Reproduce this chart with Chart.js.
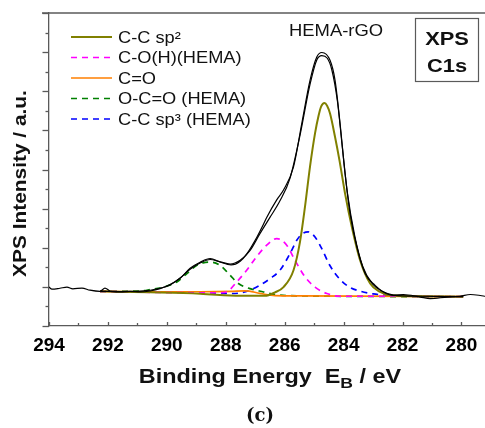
<!DOCTYPE html>
<html>
<head>
<meta charset="utf-8">
<script src="https://cdn.jsdelivr.net/npm/chart.js@4.4.0/dist/chart.umd.min.js"></script>
<style>
  html, body { margin: 0; padding: 0; background: #fff; }
  #wrap { position: relative; width: 485px; height: 428px; }
</style>
</head>
<body>
<div id="wrap"><canvas id="myChart" width="485" height="428"></canvas></div>
<script>
// values: binding energy (eV) / intensity (a.u.)
const measuredE = [294.00, 293.90, 293.63, 293.39, 293.19, 292.88, 292.61, 292.27, 292.10, 291.93, 291.59, 291.25, 290.91, 290.57, 290.23, 289.89, 289.55, 289.21, 288.87, 288.53, 288.19, 287.82, 287.51, 287.28, 286.94, 286.72, 286.61, 286.27, 286.04, 285.70, 285.42, 285.14, 284.91, 284.74, 284.46, 284.29, 284.12, 283.95, 283.78, 283.55, 283.27, 282.93, 282.65, 282.31, 281.97, 281.40, 281.06, 280.49, 280.04, 279.70, 279.36, 279.20];
const measuredI = [1.99, 1.88, 1.93, 1.99, 1.90, 1.94, 1.83, 1.77, 1.94, 1.79, 1.74, 1.77, 1.74, 1.79, 1.91, 2.12, 2.44, 2.95, 3.26, 3.45, 3.27, 3.12, 3.31, 3.70, 4.55, 5.20, 5.55, 6.45, 6.95, 8.13, 10.35, 12.56, 13.75, 13.98, 13.58, 12.56, 10.35, 7.79, 5.75, 4.04, 2.68, 2.08, 1.74, 1.57, 1.61, 1.48, 1.40, 1.48, 1.52, 1.61, 1.56, 1.52];

const envelopeE = [292.27, 291.59, 290.91, 290.23, 289.89, 289.55, 289.21, 288.87, 288.53, 288.19, 287.85, 287.51, 287.18, 286.84, 286.50, 286.16, 285.82, 285.48, 285.14, 284.91, 284.74, 284.56, 284.40, 284.21, 284.04, 283.87, 283.62, 283.35, 283.02, 282.65, 282.31, 281.40, 279.94];
const envelopeI = [1.77, 1.76, 1.78, 1.93, 2.10, 2.45, 2.90, 3.22, 3.40, 3.28, 3.17, 3.36, 3.85, 4.72, 5.55, 6.40, 7.55, 9.75, 12.35, 13.60, 13.82, 13.70, 13.10, 11.50, 9.10, 6.80, 4.60, 3.05, 2.15, 1.75, 1.58, 1.52, 1.50];

const sp2E = [292.27, 290.57, 288.87, 287.51, 286.67, 286.33, 286.04, 285.70, 285.48, 285.31, 285.14, 284.97, 284.85, 284.76, 284.65, 284.56, 284.46, 284.29, 284.14, 283.95, 283.72, 283.44, 283.10, 282.76, 282.42, 281.40, 279.94];
const sp2I = [1.77, 1.72, 1.65, 1.54, 1.54, 1.72, 1.99, 2.85, 4.30, 6.10, 8.15, 9.85, 10.75, 11.23, 11.40, 11.26, 10.86, 9.66, 8.47, 6.77, 5.06, 3.36, 2.17, 1.74, 1.57, 1.52, 1.50];

const cohE = [292.27, 290.57, 288.87, 288.19, 287.97, 287.63, 287.29, 286.96, 286.61, 286.27, 285.93, 285.65, 285.31, 284.97, 284.57, 284.12, 282.08, 279.94];
const cohI = [1.77, 1.72, 1.70, 1.70, 1.74, 2.25, 2.85, 3.53, 4.13, 4.47, 4.13, 3.36, 2.51, 1.99, 1.66, 1.52, 1.52, 1.50];

const coE = [292.27, 290.57, 288.87, 287.85, 287.34, 286.84, 286.33, 285.48, 279.94];
const coI = [1.77, 1.75, 1.75, 1.77, 1.80, 1.67, 1.55, 1.54, 1.50];

const ocoE = [292.27, 290.91, 290.57, 290.12, 289.66, 289.32, 288.98, 288.77, 288.53, 288.19, 287.85, 287.57, 287.18, 286.72, 286.38, 285.48, 279.94];
const ocoI = [1.77, 1.79, 1.86, 1.99, 2.25, 2.68, 3.10, 3.23, 3.27, 3.10, 2.59, 2.17, 1.91, 1.74, 1.62, 1.54, 1.50];

const sp3E = [292.27, 290.57, 288.87, 287.85, 287.51, 287.18, 286.84, 286.50, 286.16, 285.82, 285.59, 285.41, 285.20, 284.97, 284.74, 284.46, 284.12, 283.78, 283.44, 282.99, 282.53, 281.40, 279.94];
const sp3I = [1.77, 1.74, 1.72, 1.66, 1.69, 1.83, 2.08, 2.42, 2.85, 3.70, 4.38, 4.71, 4.81, 4.55, 3.95, 3.08, 2.38, 1.97, 1.78, 1.64, 1.56, 1.52, 1.50];

const seriesNames = ["C-C sp\u00B2", "C-O(H)(HEMA)", "C=O", "O-C=O (HEMA)", "C-C sp\u00B3 (HEMA)"];
const xTickValues = [280, 281, 282, 283, 284, 285, 286, 287, 288, 289, 290, 291, 292, 293, 294];
const xTickLabels = [294, 292, 290, 288, 286, 284, 282, 280];

function pts(xs, ys) {
  return xs.map((x, i) => ({ x: x, y: ys[i] }));
}

function stretchText(ctx, text, x, y, font, sx, align) {
  ctx.save();
  ctx.font = font;
  ctx.translate(x, y);
  ctx.scale(sx, 1);
  ctx.textAlign = align || "left";
  ctx.textBaseline = "alphabetic";
  ctx.fillText(text, 0, 0);
  ctx.restore();
}

const axisColor = "#5a5a5a";

const decorations = {
  id: "decorations",
  afterDraw(chart) {
    const ctx = chart.ctx;
    const xs = chart.scales.x;
    const ys = chart.scales.y;
    const area = chart.chartArea;

    ctx.save();
    ctx.strokeStyle = axisColor;
    ctx.lineWidth = 1.3;

    // top frame line
    ctx.beginPath();
    ctx.moveTo(42, area.top);
    ctx.lineTo(485, area.top);
    ctx.stroke();

    // y ticks (outward), major every 2 units
    ys.ticks.forEach(t => {
      const py = Math.round(ys.getPixelForValue(t.value)) + 0.5;
      const len = t.value % 2 === 0 ? 6.5 : 3.5;
      ctx.beginPath();
      ctx.moveTo(area.left - len, py);
      ctx.lineTo(area.left, py);
      ctx.stroke();
    });

    // x ticks (inward)
    xs.ticks.forEach(t => {
      const px = Math.round(xs.getPixelForValue(t.value)) + 0.5;
      const len = t.value % 2 === 0 ? 4 : 3;
      ctx.beginPath();
      ctx.moveTo(px, area.bottom);
      ctx.lineTo(px, area.bottom - len);
      ctx.stroke();
    });
    ctx.restore();

    // legend
    const rows = [37, 57.5, 78, 98.5, 119];
    ctx.save();
    ctx.fillStyle = "#111";
    rows.forEach((ry, i) => {
      const ds = chart.data.datasets[i + 2];
      ctx.save();
      ctx.strokeStyle = ds.borderColor;
      ctx.lineWidth = ds.borderWidth;
      ctx.setLineDash(ds.borderDash || []);
      ctx.beginPath();
      ctx.moveTo(71, ry);
      ctx.lineTo(112, ry);
      ctx.stroke();
      ctx.restore();
      stretchText(ctx, seriesNames[i], 118, ry + 5.8, "16px 'Liberation Sans', Arial, sans-serif", 1.14);
    });

    // sample label
    stretchText(ctx, "HEMA-rGO", 289, 35.5, "16px 'Liberation Sans', Arial, sans-serif", 1.15);

    // XPS C1s box
    ctx.strokeStyle = axisColor;
    ctx.lineWidth = 1.2;
    ctx.strokeRect(415.5, 18.5, 63, 63);
    stretchText(ctx, "XPS", 447, 45, "bold 19px 'Liberation Sans', Arial, sans-serif", 1.15, "center");
    stretchText(ctx, "C1s", 447, 72, "bold 19px 'Liberation Sans', Arial, sans-serif", 1.15, "center");

    // y title
    ctx.save();
    ctx.translate(26, 183.5);
    ctx.rotate(-Math.PI / 2);
    ctx.scale(1.16, 1);
    ctx.font = "bold 18px 'Liberation Sans', Arial, sans-serif";
    ctx.textAlign = "center";
    ctx.fillText("XPS Intensity / a.u.", 0, 0);
    ctx.restore();

    // x title with subscript
    const big = "bold 20px 'Liberation Sans', Arial, sans-serif";
    const small = "bold 15px 'Liberation Sans', Arial, sans-serif";
    const sx = 1.17;
    const partA = "Binding Energy  E";
    const partB = "B";
    const partC = " / eV";
    ctx.font = big;
    const wA = ctx.measureText(partA).width * sx;
    const wC = ctx.measureText(partC).width * sx;
    ctx.font = small;
    const wB = ctx.measureText(partB).width * sx;
    let x0 = 270 - (wA + wB + wC) / 2;
    const base = 383;
    stretchText(ctx, partA, x0, base, big, sx);
    stretchText(ctx, partB, x0 + wA, base + 5, small, sx);
    stretchText(ctx, partC, x0 + wA + wB, base, big, sx);

    // panel label
    ctx.font = "bold 18px 'DejaVu Serif', serif";
    ctx.textAlign = "center";
    ctx.fillText("(c)", 260, 421);
    ctx.restore();
  }
};

const ctx = document.getElementById("myChart").getContext("2d");

const myChart = new Chart(ctx, {
  type: "line",
  data: {
    datasets: [
      { label: "measured", data: pts(measuredE, measuredI), borderColor: "#000", borderWidth: 1.2, cubicInterpolationMode: "monotone" },
      { label: "envelope", data: pts(envelopeE, envelopeI), borderColor: "#000", borderWidth: 1.2, cubicInterpolationMode: "monotone" },
      { label: seriesNames[0], data: pts(sp2E, sp2I), borderColor: "#808000", borderWidth: 2, cubicInterpolationMode: "monotone" },
      { label: seriesNames[1], data: pts(cohE, cohI), borderColor: "#ff00ff", borderWidth: 1.7, borderDash: [6, 5], cubicInterpolationMode: "monotone" },
      { label: seriesNames[2], data: pts(coE, coI), borderColor: "#ff7f00", borderWidth: 1.7, cubicInterpolationMode: "monotone" },
      { label: seriesNames[3], data: pts(ocoE, ocoI), borderColor: "#008000", borderWidth: 1.7, borderDash: [6, 5], cubicInterpolationMode: "monotone" },
      { label: seriesNames[4], data: pts(sp3E, sp3I), borderColor: "#0000ff", borderWidth: 1.7, borderDash: [6, 5], cubicInterpolationMode: "monotone" }
    ]
  },
  options: {
    responsive: false,
    animation: false,
    devicePixelRatio: 1,
    elements: { point: { radius: 0 } },
    layout: { autoPadding: false, padding: { top: 13, left: 0, right: 0, bottom: 0 } },
    plugins: { legend: { display: false }, tooltip: { enabled: false } },
    scales: {
      x: {
        type: "linear",
        reverse: true,
        min: 279.2,
        max: 294,
        grid: { display: false, drawTicks: false },
        border: { display: true, color: axisColor, width: 1.3 },
        ticks: {
          autoSkip: false,
          maxRotation: 0,
          padding: 8,
          color: "#000",
          font: { family: "'Liberation Sans', Arial, sans-serif", size: 19, weight: "bold" },
          callback: v => (xTickLabels.includes(v) ? String(v) : "")
        },
        afterBuildTicks: s => { s.ticks = xTickValues.map(v => ({ value: v })); },
        afterFit: s => { s.height = 102; s.paddingLeft = 0; s.paddingRight = 0; }
      },
      y: {
        min: 0,
        max: 16,
        grid: { display: false, drawTicks: false },
        border: { display: true, color: axisColor, width: 1.3 },
        ticks: { display: false, stepSize: 1 },
        afterFit: s => { s.width = 49; }
      }
    }
  },
  plugins: [decorations]
});
</script>
</body>
</html>
